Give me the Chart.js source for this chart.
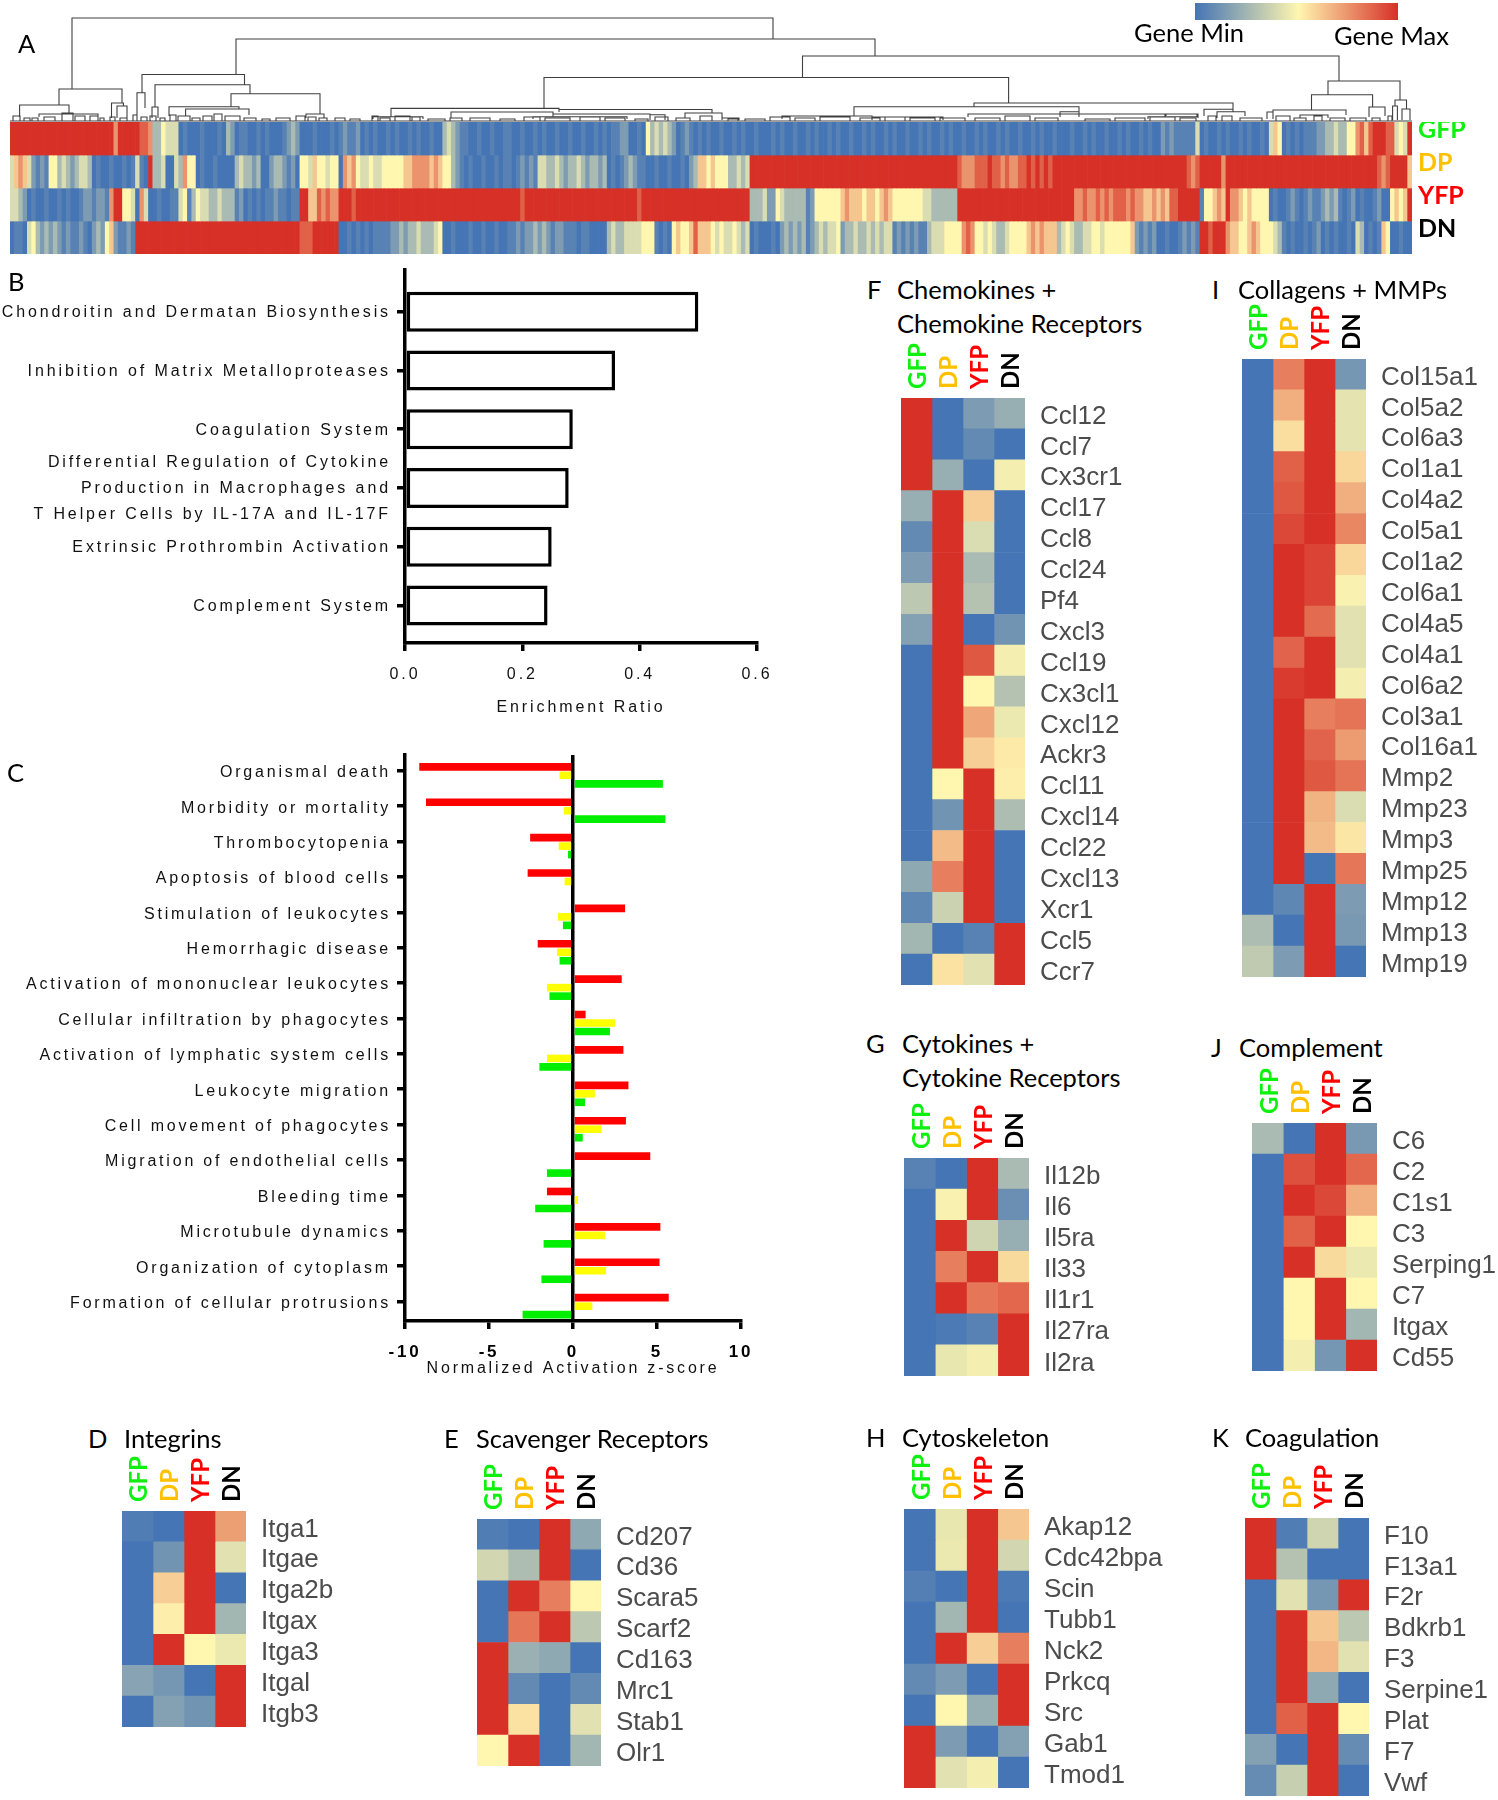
<!DOCTYPE html>
<html>
<head>
<meta charset="utf-8">
<title>Gene expression panels</title>
<script src="https://cdn.jsdelivr.net/npm/chart.js@4/dist/chart.umd.min.js"></script>
<style>
  html, body { margin: 0; padding: 0; background: #fff; }
  #page { position: relative; width: 1498px; height: 1800px; overflow: hidden; }
  #page canvas { position: absolute; }
  .txt { position: absolute; white-space: nowrap; transform: translateY(-50%); font-family: Lato, sans-serif; font-size: 25.5px; color: #000; }
  #colorbar { position: absolute; left: 1195px; top: 3px; width: 203px; height: 17px;
    background: linear-gradient(90deg, #4575b4, #fff6b0 51%, #d73027); }
</style>
</head>
<body>
<div id="page"><div id="colorbar"></div></div>
<script>
// ---- shared column names for all heatmaps
const popNames = ['GFP', 'DP', 'YFP', 'DN'];
const popColors = ['#10f010', '#ffc000', '#ff0000', '#000000'];

// ---- panel A: one digit per gene, 0 = gene min, 5 = mid, 9 = gene max (four stretches of 81 genes)
const rowGFP = `
9999999999 9999999999 9999 7 99999 887 33 54 44 01000100010 32 01 1001010001 232 000100010 12112
0101001010 010100100 3432 110010010011 001001010010 010010010101 122 0010 5343432 01210101
0010010100 1000101001 0010100101 0010010100 1010010010 1001010010 0101001010 0100101001 0
00100101001001010010100 21211111 4 0100101001010010 465 01010111 2233433 55 786899988 454 9
`;
const rowDP = `
4 6764 2121 55 34323443 0100100101 4 10 9 334 00 43 755 010010000 343323 00 2332 120 554655455 0 7675
44544555556 67777676 55 32 101001001011012121 4433432334323323 010123211 00100100102 3 665
6555 33434 9999999999 9999999999 9999999999 9999999999 99999999 8777888988 7877889898 9899
9999999999 9999999999 999999999 878 99999 7 9999999999 9999999999 9999999999 99999 878 9999 6
`;
const rowYFP = `
4432 010010010100 1221221 799 554 074 0010011 45 13 544334333 120101011211011 99 6687877 99989
9999999999 9999999999 9999999999 9999999899 9999999999 9999999999 9999899999 9999999999 9
999999999 3334 22 54 33333 12 555555 676665665676 5555555 44333333 9999999999 9999999999 9999
999 778778787 8887877 667676 88 99999 1 55 676 9 77 656 5555 0100121012112323 1012 010012 00 5656 9
`;
const rowDN = `
0110 45 3232321211210 232 56 21121 9999999999 9999999999 9999999999 99999999 888 999999 00101
01011112 23233433345 0010001001001001 121223232122111011 0000 34334444555 1010 56556 8 666
545445434 0100010 232323 12 343445 233433434344 12121211 34445555 787 55454 334 5555 6767666 3
454 334 45545555556 21212 00100 12121 998999 766 556 765 5543 10100101 2 01010010 43 0101 65 00100
`;
const heatmapRows = [rowGFP, rowDP, rowYFP, rowDN];
const digitScale = [0, 0.05, 0.15, 0.27, 0.4, 0.5, 0.62, 0.75, 0.88, 1];

// ---- panel A dendrogram: [left, right, join height, left drop, right drop] in image depth units
const bigLinks = [
  [72, 773, 18, 89, 39], [236, 875, 39, 74.5, 56], [802.5, 1339, 56, 77.5, 81], [544, 1008.6, 77.5, 108, 103],
  [1328, 1400, 81, 94.7, 100], [1311.5, 1372.6, 94.7, 110, 107], [1273, 1346, 110, 112, 115], [1369, 1385, 107, 117, 116],
  [1395, 1406.5, 100, 106, 109], [1392.6, 1397.4, 106, 120, 120], [1402, 1410, 109, 120, 120],
  [59, 122, 89, 105, 103], [19.6, 69, 105, 117, 114], [39, 98, 114, 117, 116], [111.5, 123.4, 103, 118, 106], [117, 127, 106, 118, 118],
  [142, 244.5, 74.5, 92.7, 84.7], [137, 145, 92.7, 117, 108], [155, 250, 84.7, 107, 93.7], [152, 158, 107, 118, 118],
  [231, 320, 93.7, 106.7, 114], [169, 239, 106.7, 116, 109], [185.6, 249, 109, 116, 115], [306, 324, 114, 118, 118],
  [391, 559, 108.4, 116.7, 112], [451, 553, 112, 118, 114], [373, 423, 116.7, 119, 119], [559, 712, 109.5, 112, 113], [533, 627, 116.7, 119, 119],
  [553, 650, 114, 116.7, 114.7], [650, 665, 114.7, 120, 120], [685, 722, 113, 118, 118], [722, 739, 118, 120, 120],
  [974, 1233, 103, 106.7, 109.3], [854, 1079, 106.7, 116, 111.7], [782, 872, 116, 119, 117], [872, 943, 117, 120, 120],
  [968, 1166, 114, 117, 116], [1060, 1079, 111.7, 117, 117], [1204, 1233, 109.3, 116, 111.7], [1217, 1245, 111.7, 118, 116],
  [1148, 1197, 116.7, 119, 114], [1165, 1198, 114, 117, 118], [1267, 1273, 112, 119, 119], [1300, 1328, 115, 118, 118],
];
const twigLinks = [
  [13, 20, 116], [24, 30, 118], [32, 38, 118], [44, 55, 117], [62, 73, 113], [75, 85, 116], [90, 98, 116], [100, 104, 118],
  [110, 115, 117], [120, 127, 118], [133, 137, 115], [141, 147, 117], [150, 156, 116], [160, 165, 118], [170, 176, 115],
  [178, 190, 116], [192, 200, 118], [203, 212, 116], [214, 222, 114], [225, 240, 116], [244, 256, 118], [262, 270, 119],
  [276, 290, 118], [296, 305, 116], [308, 316, 117], [319, 327, 118], [335, 345, 118], [350, 360, 119], [372, 378, 116],
  [380, 390, 118], [395, 410, 116], [412, 420, 117], [428, 445, 119], [450, 462, 118], [470, 490, 118], [500, 515, 119],
  [524, 540, 117], [545, 570, 118], [580, 600, 117], [605, 625, 118], [635, 648, 119], [655, 668, 117], [676, 690, 118],
  [700, 712, 116], [728, 738, 119], [745, 765, 119], [770, 790, 117], [795, 815, 118], [820, 850, 117], [860, 880, 118],
  [885, 905, 117], [910, 935, 118], [940, 965, 118], [975, 1000, 118], [1005, 1030, 116], [1035, 1058, 118], [1085, 1110, 119],
  [1115, 1145, 118], [1150, 1175, 117], [1180, 1196, 118], [1208, 1216, 116], [1222, 1232, 116], [1240, 1262, 118], [1276, 1290, 116],
  [1294, 1306, 118], [1314, 1322, 116], [1330, 1345, 118], [1350, 1366, 118], [1372, 1380, 118], [1388, 1392, 116],
];
const leafLine = [10, 1412, 121];

// ---- panel B
const pathwayNames = [
  'Chondroitin and Dermatan Biosynthesis',
  'Inhibition of Matrix Metalloproteases',
  'Coagulation System',
  ['Differential Regulation of Cytokine', 'Production in Macrophages and', 'T Helper Cells by IL-17A and IL-17F'],
  'Extrinsic Prothrombin Activation',
  'Complement System',
];
const enrichmentRatio = [0.5, 0.358, 0.286, 0.279, 0.25, 0.243];

// ---- panel C
const functionNames = [
  'Organismal death', 'Morbidity or mortality', 'Thrombocytopenia', 'Apoptosis of blood cells',
  'Stimulation of leukocytes', 'Hemorrhagic disease', 'Activation of mononuclear leukocytes',
  'Cellular infiltration by phagocytes', 'Activation of lymphatic system cells', 'Leukocyte migration',
  'Cell movement of phagocytes', 'Migration of endothelial cells', 'Bleeding time', 'Microtubule dynamics',
  'Organization of cytoplasm', 'Formation of cellular protrusions',
];
const zRed = [-9.15, -8.75, -2.55, -2.7, 3.1, -2.1, 2.9, 0.75, 3.0, 3.3, 3.15, 4.6, -1.55, 5.2, 5.15, 5.7];
const zYellow = [-0.8, -0.55, -0.85, -0.5, -0.9, -0.95, -1.55, 2.5, -1.55, 1.3, 1.7, null, 0.3, 1.9, 1.97, 1.15];
const zGreen = [5.35, 5.5, -0.3, null, -0.6, -0.8, -1.4, 2.2, -2.0, 0.72, 0.58, -1.55, -2.25, -1.75, -1.88, -3.0];

// ---- heatmap panels, rows are GFP, DP, YFP, DN; 0 = blue, 0.5 = yellow, 1 = red
const integrinGenes = ['Itga1', 'Itgae', 'Itga2b', 'Itgax', 'Itga3', 'Itgal', 'Itgb3'];
const integrinHeat = [[.03, 0, 1, .72], [0, .12, 1, .42], [0, .6, 1, 0], [0, .52, 1, .25], [0, 1, .5, .45], [.18, .13, 0, 1], [0, .17, .12, 1]];

const scavengerGenes = ['Cd207', 'Cd36', 'Scara5', 'Scarf2', 'Cd163', 'Mrc1', 'Stab1', 'Olr1'];
const scavengerHeat = [[.03, 0, 1, .2], [.38, .28, 1, 0], [0, 1, .8, .5], [0, .82, 1, .32], [1, .23, .2, 0], [1, .08, 0, .08], [1, .55, 0, .42], [.5, 1, 0, .25]];

const chemokineGenes = ['Ccl12', 'Ccl7', 'Cx3cr1', 'Ccl17', 'Ccl8', 'Ccl24', 'Pf4', 'Cxcl3', 'Ccl19', 'Cx3cl1', 'Cxcl12', 'Ackr3', 'Ccl11', 'Cxcl14', 'Ccl22', 'Cxcl13', 'Xcr1', 'Ccl5', 'Ccr7'];
const chemokineHeat = [[1, 0, .15, .22], [1, 0, .08, 0], [1, .22, 0, .47], [.22, 1, .6, 0], [.08, 1, .4, 0], [.15, 1, .27, 0], [.32, 1, .3, 0], [.17, 1, 0, .12], [0, 1, .9, .47], [0, 1, .5, .3], [0, 1, .7, .45], [0, 1, .6, .53], [0, .5, 1, .52], [0, .12, 1, .28], [0, .65, 1, 0], [.2, .8, 1, 0], [.07, .36, 1, 0], [.25, 0, .05, 1], [0, .55, .42, 1]];

const collagenGenes = ['Col15a1', 'Col5a2', 'Col6a3', 'Col1a1', 'Col4a2', 'Col5a1', 'Col1a2', 'Col6a1', 'Col4a5', 'Col4a1', 'Col6a2', 'Col3a1', 'Col16a1', 'Mmp2', 'Mmp23', 'Mmp3', 'Mmp25', 'Mmp12', 'Mmp13', 'Mmp19'];
const collagenHeat = [[0, .8, 1, .13], [0, .68, 1, .43], [0, .56, 1, .43], [0, .88, 1, .58], [0, .9, 1, .68], [0, .94, 1, .78], [0, 1, .95, .58], [0, 1, .95, .48], [0, 1, .85, .42], [0, .87, 1, .42], [0, .97, 1, .47], [0, 1, .8, .83], [0, 1, .87, .73], [0, 1, .9, .83], [0, 1, .67, .4], [0, 1, .65, .54], [0, 1, 0, .82], [0, .07, 1, .15], [.28, 0, 1, .14], [.33, .15, 1, 0]];

const cytokineGenes = ['Il12b', 'Il6', 'Il5ra', 'Il33', 'Il1r1', 'Il27ra', 'Il2ra'];
const cytokineHeat = [[.05, 0, 1, .27], [0, .48, 1, .1], [0, 1, .37, .22], [0, .8, 1, .57], [0, 1, .82, .86], [0, .02, .05, 1], [0, .44, .47, 1]];

const complementGenes = ['C6', 'C2', 'C1s1', 'C3', 'Serping1', 'C7', 'Itgax', 'Cd55'];
const complementHeat = [[.27, 0, 1, .14], [0, .92, 1, .86], [0, 1, .94, .68], [0, .88, 1, .5], [0, 1, .57, .45], [0, .5, 1, .5], [0, .5, 1, .25], [0, .47, .13, 1]];

const cytoskeletonGenes = ['Akap12', 'Cdc42bpa', 'Scin', 'Tubb1', 'Nck2', 'Prkcq', 'Src', 'Gab1', 'Tmod1'];
const cytoskeletonHeat = [[0, .44, 1, .62], [0, .45, 1, .38], [.04, 0, 1, .02], [0, .25, 1, 0], [0, 1, .6, .8], [.08, .15, 0, 1], [0, .5, .22, 1], [1, .15, 0, .17], [1, .42, .47, 0]];

const coagulationGenes = ['F10', 'F13a1', 'F2r', 'Bdkrb1', 'F3', 'Serpine1', 'Plat', 'F7', 'Vwf'];
const coagulationHeat = [[1, .03, .37, 0], [1, .3, 0, 0], [0, .42, .13, 1], [0, 1, .62, .32], [0, 1, .66, .42], [0, 1, .2, 0], [0, .88, 1, .5], [.17, 0, 1, .09], [.09, .35, 1, 0]];

Chart.defaults.animation = false;
Chart.defaults.font.family = '"Liberation Sans", Arial, sans-serif';

const page = document.getElementById('page');
const LOW = [69, 117, 180], MID = [255, 246, 176], HIGH = [215, 48, 39];

function heatColor(v) {
  const a = v < 0.5 ? LOW : MID;
  const b = v < 0.5 ? MID : HIGH;
  const t = v < 0.5 ? v * 2 : (v - 0.5) * 2;
  return `rgb(${a.map((c, i) => Math.round(c + (b[i] - c) * t)).join(',')})`;
}

function addChart(left, top, width, height, config) {
  const canvas = document.createElement('canvas');
  canvas.width = width;
  canvas.height = height;
  canvas.style.left = left + 'px';
  canvas.style.top = top + 'px';
  page.appendChild(canvas);
  config.options = Object.assign({ responsive: false }, config.options);
  return new Chart(canvas, config);
}

function addText(text, left, y, style) {
  const el = document.createElement('div');
  el.className = 'txt';
  el.textContent = text;
  el.style.left = left + 'px';
  el.style.top = y + 'px';
  if (style) Object.assign(el.style, style);
  page.appendChild(el);
}

// Canvas letter spacing for the stretched labels of panels B and C
const spacing = (px) => ({
  id: 'spacing',
  beforeDraw(chart) { chart.ctx.letterSpacing = px + 'px'; },
});

// Fixes an axis box to a set size, without the margins Chart.js adds for its outer labels
function fixBox(scale, size) {
  if (scale.isHorizontal()) scale.height = size;
  else scale.width = size;
  scale.paddingLeft = scale.paddingRight = scale.paddingTop = scale.paddingBottom = 0;
}

/**
 * Draws one small heatmap: stacked unit bars, rotated population names on top, gene names on the right.
 */
function drawHeatmap(left, top, right, bottom, genes, heat) {
  const HEAD = 60, LABELS = 150;
  const datasets = popNames.map((name, c) => ({
    label: name,
    data: genes.map(() => 1),
    backgroundColor: heat.map((row) => heatColor(row[c])),
    borderWidth: 0,
    barPercentage: 1,
    categoryPercentage: 1,
  }));
  addChart(left, top - HEAD, right - left + LABELS, bottom - top + HEAD, {
    type: 'bar',
    data: { labels: genes, datasets },
    options: {
      indexAxis: 'y',
      plugins: { legend: { display: false }, tooltip: { enabled: false } },
      scales: {
        x: {
          position: 'top',
          stacked: true,
          min: 0,
          max: 4,
          border: { display: false },
          grid: { display: false },
          afterBuildTicks(scale) { scale.ticks = popNames.map((n, i) => ({ value: i + 0.5 })); },
          afterFit(scale) { fixBox(scale, HEAD); },
          ticks: {
            autoSkip: false,
            minRotation: 90,
            maxRotation: 90,
            padding: 1,
            labelOffset: 31,
            font: { family: 'Lato', weight: 'bold', size: 24 },
            color: (ctx) => popColors[ctx.index],
            callback: (v, i) => popNames[i],
          },
        },
        y: {
          position: 'right',
          stacked: true,
          border: { display: false },
          grid: { display: false },
          afterFit(scale) { fixBox(scale, LABELS); },
          ticks: { autoSkip: false, padding: 7, labelOffset: 3, color: '#4c4c4c', font: { size: 26 } },
        },
      },
    },
  });
}

// ---- panel A heat strip
const stripValues = heatmapRows.map((row) => [...row.replace(/\s/g, '')].map((d) => digitScale[+d]));
const geneCount = Math.max(...stripValues.map((r) => r.length));
addChart(10, 122, 1488, 132, {
  type: 'bar',
  data: {
    labels: Array.from({ length: geneCount }, (_, i) => i),
    datasets: stripValues.map((row, r) => ({
      label: popNames[r],
      data: row.map(() => 1),
      backgroundColor: row.map(heatColor),
      borderWidth: 0,
      barPercentage: 1,
      categoryPercentage: 1,
    })),
  },
  options: {
    plugins: { legend: { display: false }, tooltip: { enabled: false } },
    scales: {
      x: { display: false, stacked: true },
      y: {
        position: 'right',
        stacked: true,
        reverse: true,
        min: 0,
        max: 4,
        border: { display: false },
        grid: { display: false },
        afterBuildTicks(scale) { scale.ticks = popNames.map((n, i) => ({ value: i + 0.5 })); },
        afterFit(scale) { fixBox(scale, 86); },
        ticks: {
          padding: -2,
          labelOffset: -9,
          font: { family: 'Lato', weight: 'bold', size: 25 },
          color: (ctx) => popColors[ctx.index],
          callback: (v, i) => popNames[i],
        },
      },
    },
  },
});

// ---- panel A dendrogram
const dendroPoints = [];
bigLinks.forEach(([x1, x2, y, y1, y2]) => {
  dendroPoints.push({ x: x1, y: y1 }, { x: x1, y }, { x: x2, y }, { x: x2, y: y2 }, { x: NaN, y: NaN });
});
twigLinks.forEach(([x1, x2, y]) => {
  dendroPoints.push({ x: x1, y: 121 }, { x: x1, y }, { x: x2, y }, { x: x2, y: 121 }, { x: NaN, y: NaN });
});
dendroPoints.push({ x: leafLine[0], y: leafLine[2] }, { x: leafLine[1], y: leafLine[2] });
addChart(10, 0, 1402, 122, {
  type: 'scatter',
  data: {
    datasets: [{
      data: dendroPoints,
      showLine: true,
      spanGaps: false,
      pointRadius: 0,
      borderColor: '#3f3f3f',
      borderWidth: 1.1,
    }],
  },
  options: {
    plugins: { legend: { display: false }, tooltip: { enabled: false } },
    scales: {
      x: { display: false, min: 10, max: 1412 },
      y: { display: false, min: 0, max: 122, reverse: true },
    },
  },
});

// ---- panel B
addChart(0, 265, 800, 456, {
  type: 'bar',
  plugins: [spacing(2.9)],
  data: {
    datasets: [{
      data: enrichmentRatio.map((v, i) => ({ x: v, y: i })),
      backgroundColor: '#fff',
      borderColor: '#000',
      borderWidth: 3.5,
      borderSkipped: false,
      categoryPercentage: 0.68,
      barPercentage: 1,
    }],
  },
  options: {
    indexAxis: 'y',
    layout: { padding: { top: 5, right: 43 } },
    plugins: { legend: { display: false }, tooltip: { enabled: false } },
    scales: {
      x: {
        type: 'linear',
        min: 0,
        max: 0.6,
        border: { color: '#000', width: 3.5 },
        grid: { drawOnChartArea: false, color: '#000', lineWidth: 3.5, tickLength: 8 },
        afterFit(scale) { fixBox(scale, 78); },
        ticks: { stepSize: 0.2, color: '#111', padding: 14, font: { size: 16 }, callback: (v) => v.toFixed(1) },
        title: { display: true, text: 'Enrichment Ratio', color: '#111', font: { size: 16 }, padding: { top: 0 } },
      },
      y: {
        type: 'linear',
        reverse: true,
        offset: false,
        min: -0.71,
        max: 5.64,
        border: { color: '#000', width: 3.5 },
        grid: { offset: false, drawOnChartArea: false, color: '#000', lineWidth: 3.5, tickLength: 8 },
        afterBuildTicks(scale) { scale.ticks = pathwayNames.map((n, i) => ({ value: i })); },
        afterFit(scale) { fixBox(scale, 405); },
        ticks: {
          autoSkip: false,
          padding: 6,
          labelOffset: 1,
          color: '#111',
          font: { size: 16, lineHeight: '26px' },
          callback: (v, i) => pathwayNames[i],
        },
      },
    },
  },
});

// ---- panel C
const GROUP_SHIFT = 0.13;
const zSeries = [[zRed, '#ff0000'], [zYellow, '#ffff00'], [zGreen, '#00ee00']];
addChart(0, 750, 800, 632, {
  type: 'bar',
  plugins: [spacing(2.8)],
  data: {
    datasets: zSeries.map(([vals, color]) => ({
      data: vals.map((v, i) => ({ x: v, y: i + GROUP_SHIFT })),
      backgroundColor: color,
      borderWidth: 0,
      categoryPercentage: 0.72,
      barPercentage: 0.9,
    })),
  },
  options: {
    indexAxis: 'y',
    layout: { padding: { top: 5, right: 59 } },
    plugins: { legend: { display: false }, tooltip: { enabled: false } },
    scales: {
      x: {
        type: 'linear',
        min: -10,
        max: 10,
        border: { color: '#000', width: 3.5 },
        grid: {
          color: (ctx) => (ctx.tick && ctx.tick.value === 0 ? '#000' : 'rgba(0,0,0,0)'),
          lineWidth: 3.5,
          tickColor: '#000',
          tickLength: 8,
        },
        afterFit(scale) { fixBox(scale, 61); },
        ticks: { stepSize: 5, color: '#000', padding: 13, font: { size: 17, weight: 'bold' } },
        title: { display: true, text: 'Normalized Activation z-score', color: '#111', font: { size: 16 }, padding: { top: 0 } },
      },
      y: {
        type: 'linear',
        reverse: true,
        offset: false,
        min: -0.444,
        max: 15.55,
        border: { color: '#000', width: 3.5 },
        grid: { offset: false, drawOnChartArea: false, color: '#000', lineWidth: 3.5, tickLength: 8 },
        afterBuildTicks(scale) { scale.ticks = functionNames.map((n, i) => ({ value: i })); },
        afterFit(scale) { fixBox(scale, 405); },
        ticks: { autoSkip: false, padding: 6, labelOffset: 2, color: '#111', font: { size: 16 }, callback: (v, i) => functionNames[i] },
      },
    },
  },
});

// ---- heatmap panels
drawHeatmap(122, 1511, 246, 1727, integrinGenes, integrinHeat);
drawHeatmap(477, 1519, 601, 1766, scavengerGenes, scavengerHeat);
drawHeatmap(901, 398, 1025, 985, chemokineGenes, chemokineHeat);
drawHeatmap(1242, 359, 1366, 977, collagenGenes, collagenHeat);
drawHeatmap(904, 1158, 1029, 1376, cytokineGenes, cytokineHeat);
drawHeatmap(1252, 1123, 1377, 1371, complementGenes, complementHeat);
drawHeatmap(904, 1509, 1029, 1788, cytoskeletonGenes, cytoskeletonHeat);
drawHeatmap(1245, 1518, 1369, 1796, coagulationGenes, coagulationHeat);

// ---- panel letters and titles
addText('A', 18, 43);
addText('B', 8, 281);
addText('C', 7, 772);
addText('D', 88, 1438);
addText('Integrins', 124, 1438);
addText('E', 444, 1438);
addText('Scavenger Receptors', 476, 1438);
addText('F', 867, 289);
addText('Chemokines +', 897, 289);
addText('Chemokine Receptors', 897, 323);
addText('I', 1212, 289);
addText('Collagens + MMPs', 1238, 289);
addText('G', 866, 1043);
addText('Cytokines +', 902, 1043);
addText('Cytokine Receptors', 902, 1077);
addText('J', 1211, 1047);
addText('Complement', 1239, 1047);
addText('H', 866, 1437);
addText('Cytoskeleton', 902, 1437);
addText('K', 1212, 1437);
addText('Coagulation', 1245, 1437);
addText('Gene Min', 1134, 32);
addText('Gene Max', 1334, 35);
</script>
</body>
</html>
